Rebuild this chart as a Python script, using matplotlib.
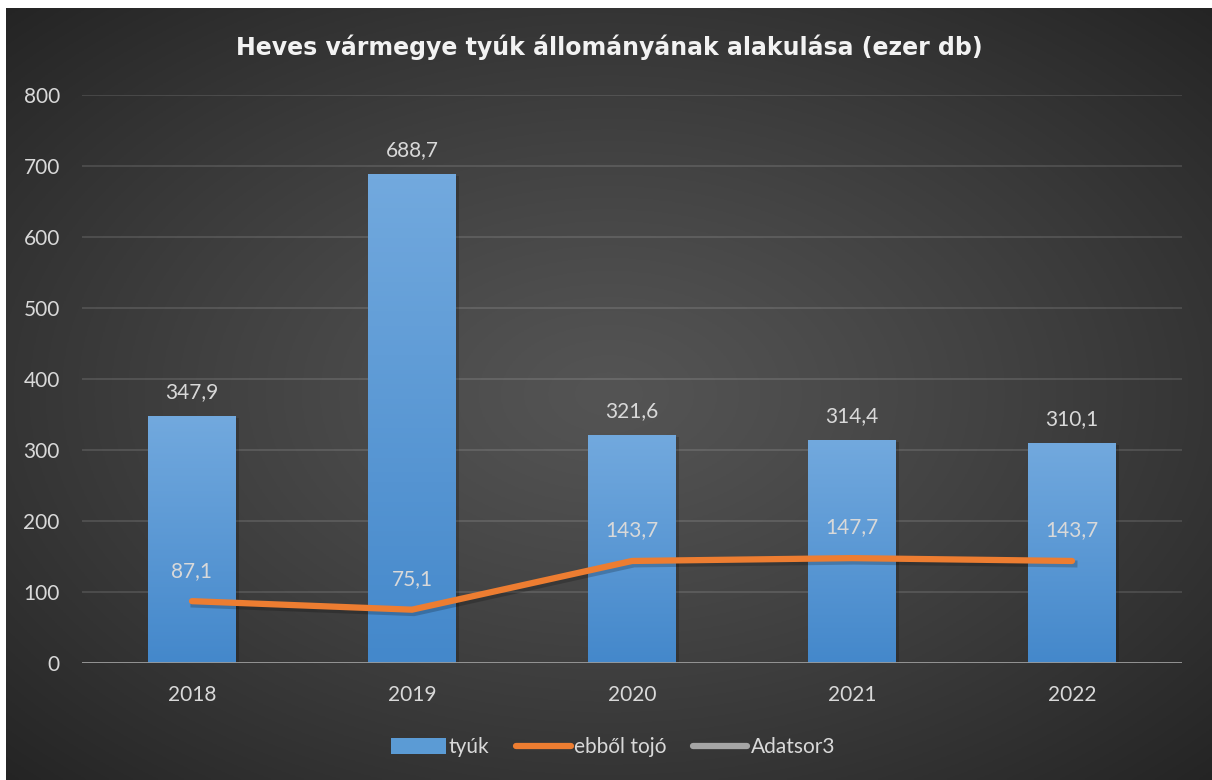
import numpy as np
import matplotlib.pyplot as plt
from matplotlib.patches import Patch
from matplotlib.lines import Line2D

years = ["2018", "2019", "2020", "2021", "2022"]
tyuk = [347.9, 688.7, 321.6, 314.4, 310.1]
tojo = [87.1, 75.1, 143.7, 147.7, 143.7]
adatsor3 = []  # empty series, only shown in the legend

title = "Heves vármegye tyúk állományának alakulása (ezer db)"
txt_col = "#d9d9d9"
plt.rcParams['font.family'] = ['Lato', 'DejaVu Sans']

fig = plt.figure(figsize=(12.12, 7.8), dpi=100, facecolor="white")

# dark radial background (white strip top/left like the source)
bg = fig.add_axes([6/1212, 0, 1 - 6/1212, 1 - 8/780])
bg.set_axis_off()
yy, xx = np.mgrid[0:1:300j, 0:1:400j]
r = np.sqrt(((xx - 0.5) / 0.75) ** 2 + ((yy - 0.5) / 0.75) ** 2)
r = np.clip(r / 0.95, 0, 1)
c0, c1 = 0x54 / 255, 0x24 / 255
g = c0 + (c1 - c0) * r ** 1.2
bg.imshow(np.dstack([g, g, g]), extent=[0, 1, 0, 1], aspect="auto", origin="lower")
bg.set_xlim(0, 1); bg.set_ylim(0, 1)

ax = fig.add_axes([82/1212, 117/780, 1100/1212, 568/780])
ax.set_facecolor("none")
x = np.arange(len(years))

bars = ax.bar(x, tyuk, width=0.4, color="#5b9bd5", zorder=2)
grad = np.linspace(0, 1, 100).reshape(-1, 1)
top = np.array([0x72, 0xa9, 0xde]) / 255
bot = np.array([0x44, 0x88, 0xcb]) / 255
cols = bot + (top - bot) * grad[..., None]
for b in bars:
    bx, by, bw, bh = b.get_x(), b.get_y(), b.get_width(), b.get_height()
    # soft shadow
    ax.bar(bx + bw / 2 + 0.012, bh, width=bw, bottom=-3, color="black", alpha=0.18, zorder=1.5)
    im = ax.imshow(cols, extent=[bx, bx + bw, by, by + bh], origin="lower",
                   aspect="auto", zorder=2.1)
    im.set_clip_path(b)

ax.plot(x, tojo, color="black", lw=5, alpha=0.2, zorder=2.9,
        transform=ax.transData + __import__("matplotlib").transforms.ScaledTranslation(2/100, -3/100, fig.dpi_scale_trans))
ax.plot(x, tojo, color="#ed7d31", lw=4.5, solid_capstyle="round", zorder=3)
ax.plot([], [], color="#a5a5a5", lw=4.5)

for xi, v in zip(x, tyuk):
    ax.annotate(f"{v:.1f}".replace(".", ","), (xi, v), xytext=(0, 17), textcoords="offset points",
                ha="center", va="center", color=txt_col, fontsize=15, zorder=4)
for xi, v in zip(x, tojo):
    ax.annotate(f"{v:.1f}".replace(".", ","), (xi, v), xytext=(0, 22), textcoords="offset points",
                ha="center", va="center", color=txt_col, fontsize=15, zorder=4)

ax.set_xlim(-0.5, 4.5)
ax.set_ylim(0, 800)
ax.set_yticks(range(0, 801, 100))
ax.set_xticks(x)
ax.set_xticklabels(years)
ax.tick_params(axis="both", length=0, colors=txt_col, labelsize=15)
ax.tick_params(axis="y", pad=16)
ax.tick_params(axis="x", pad=16)
ax.grid(axis="y", color="white", alpha=0.13, lw=1.3, zorder=0)
ax.set_axisbelow(True)
for s in ax.spines.values():
    s.set_visible(False)
ax.axhline(0, color="#9a9a9a", lw=2, zorder=3.5)

fig.text(0.503, 0.94, title, ha="center", va="center", color="#f2f2f2",
         fontsize=17, fontweight="bold", family=["DejaVu Sans"])

handles = [Patch(facecolor="#5b9bd5", edgecolor="none"),
           Line2D([], [], color="#ed7d31", lw=4.5, solid_capstyle="round"),
           Line2D([], [], color="#a5a5a5", lw=4.5, solid_capstyle="round")]
fig.legend(handles, ["tyúk", "ebből tojó", "Adatsor3"], loc="center", bbox_to_anchor=(0.506, 0.042),
           ncol=3, frameon=False, fontsize=15, labelcolor=txt_col, handlelength=2.6,
           handletextpad=0.15, columnspacing=1.3, handleheight=0.8)

fig.savefig("out.png", dpi=100, facecolor=fig.get_facecolor())
